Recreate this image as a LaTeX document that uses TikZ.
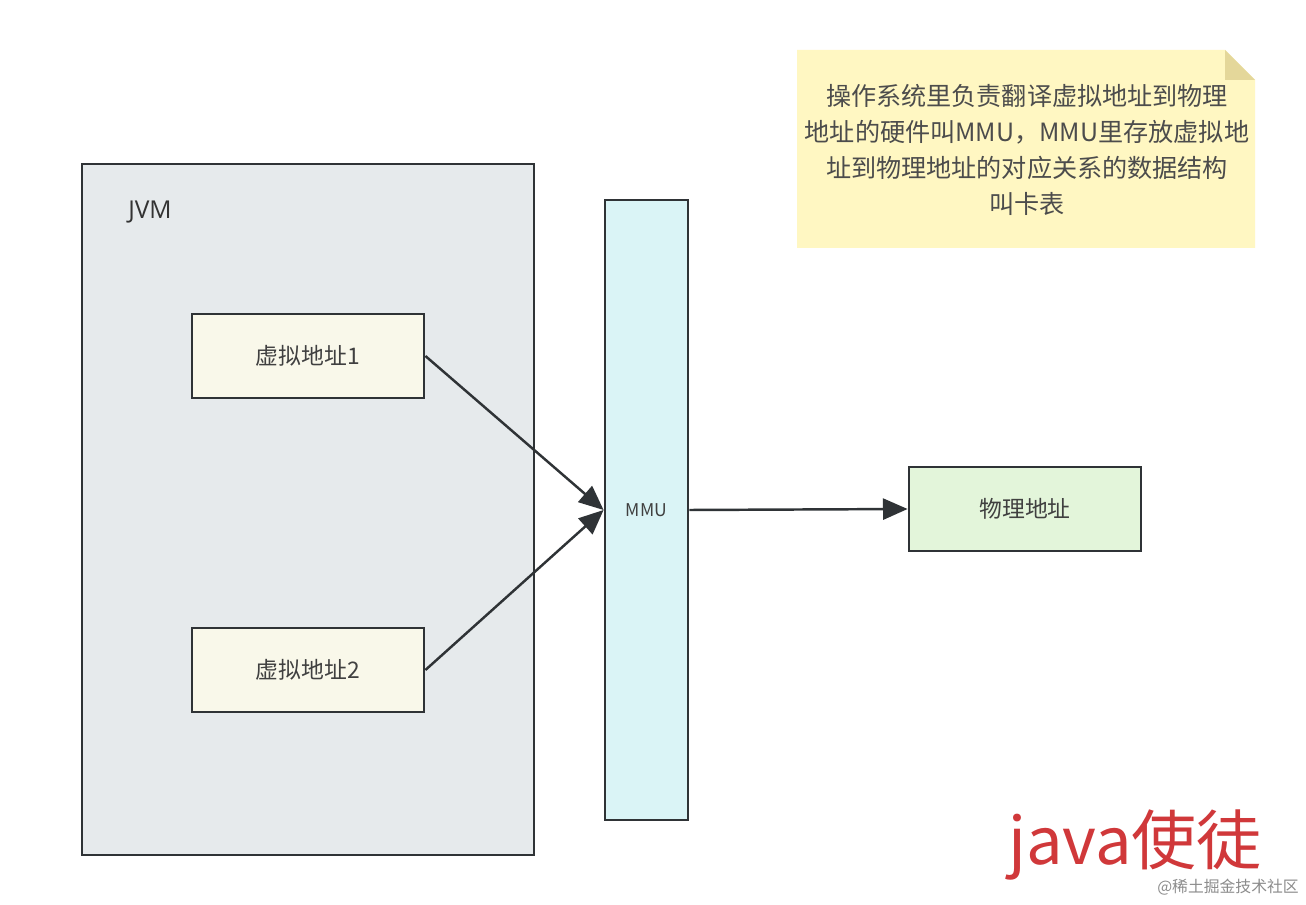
\documentclass[tikz,border=0pt]{standalone}
\usepackage{fontspec}
\setmainfont{Liberation Serif}
\setsansfont{Open Sans}
\newfontfamily\cjk{Noto Sans CJK SC}
\usetikzlibrary{positioning,arrows.meta}
\definecolor{jvmfill}{HTML}{E6EAEC}
\definecolor{linegray}{HTML}{2F3336}
\definecolor{notefill}{HTML}{FFF7C2}
\definecolor{notefold}{HTML}{E4D79A}
\definecolor{mmufill}{HTML}{DAF4F6}
\definecolor{addrfill}{HTML}{F9F8EA}
\definecolor{physfill}{HTML}{E3F5DA}
\definecolor{marksred}{HTML}{D0383A}
\tikzset{
  box/.style={draw=linegray, line width=1.6pt, inner sep=0pt, font=\cjk\fontsize{13}{15}\selectfont, text=black!75},
  link/.style={draw=linegray, line width=1.4pt, -{Triangle[length=14pt,width=12pt]}}
}
\begin{document}
\begin{tikzpicture}[x=0.02cm,y=-0.02cm]
        \useasboundingbox[fill=white] (0,0) rectangle (1306,905);
        % JVM frame
        \draw[draw=linegray, line width=1.6pt, fill=jvmfill] (82,164) rectangle (534,855);
        \node (jvm) at (150,212) [font=\sffamily\fontsize{14}{16}\selectfont, text=black!80] {JVM};
        % note with folded corner
        \fill[notefill] (797,50) -- (1225,50) -- (1255,80) -- (1255,248) -- (797,248) -- cycle;
        \fill[notefold] (1225,50) -- (1255,80) -- (1225,80) -- cycle;
        \node (note) at (1027,150) [align=center, font=\cjk\fontsize{14.3}{20.5}\selectfont, text=black!70] {操作系统里负责翻译虚拟地址到物理\\地址的硬件叫MMU，MMU里存放虚拟地\\址到物理地址的对应关系的数据结构\\叫卡表};
        % boxes
        \node (addr1) at (308,356) [box, fill=addrfill, minimum width=232*0.02cm, minimum height=84*0.02cm] {虚拟地址1};
        \node (addr2) at (308,670) [box, fill=addrfill, minimum width=232*0.02cm, minimum height=84*0.02cm] {虚拟地址2};
        \node (mmu) at (646.5,510) [box, fill=mmufill, minimum width=83*0.02cm, minimum height=620*0.02cm, font=\cjk\fontsize{10}{12}\selectfont] {MMU};
        \node (phys) at (1025,509) [box, fill=physfill, minimum width=232*0.02cm, minimum height=84*0.02cm] {物理地址};
        % connectors
        \draw[link] (addr1.east) -- (mmu.west);
        \draw[link] (addr2.east) -- (mmu.west);
        \draw[link] (mmu.east) -- (phys.west);
        % watermark
        \node (mark) at (1135,845) [text=marksred, font=\cjk\fontsize{37}{40}\selectfont] {java使徒};
        \node (site) at (1228,887) [text=black!45, font=\cjk\fontsize{9}{10}\selectfont] {@稀土掘金技术社区};
    \end{tikzpicture}
\end{document}
